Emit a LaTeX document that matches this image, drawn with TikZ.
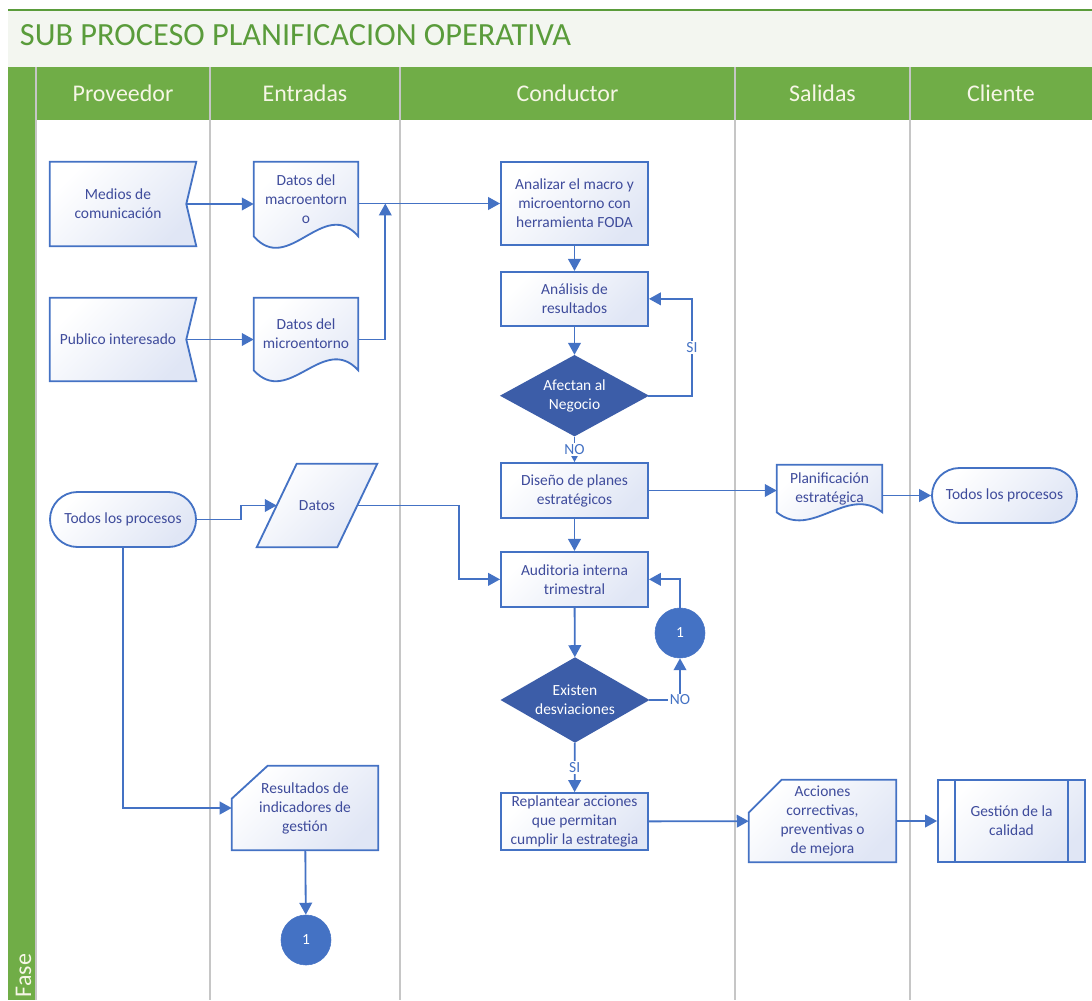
\documentclass[tikz,border=0pt]{standalone}
\usepackage{fontspec}
\setmainfont{Carlito}
\usepackage{xcolor}
\usetikzlibrary{arrows.meta,positioning,calc,shapes.geometric,shapes.misc}
\definecolor{lanegreen}{HTML}{70AD47}
\definecolor{titlegreen}{HTML}{5A9C3B}
\definecolor{titlefill}{HTML}{F3F6F0}
\definecolor{lanegray}{HTML}{C6C6C6}
\definecolor{headtext}{HTML}{F6F6E6}
\definecolor{shapeblue}{HTML}{4472C4}
\definecolor{decblue}{HTML}{3C5DA8}
\definecolor{shapetext}{HTML}{3F4C9C}
\definecolor{shapefill}{HTML}{E0E6F5}
\pgfdeclarelayer{lanes}
\pgfdeclarelayer{outline}
\pgfsetlayers{lanes,outline,main}
\newcommand\flowfont{\fontsize{11}{13.5}\selectfont}
\newcommand\notchshape[1]{\path[shapebody] (#1.north west) -- ($(#1.north east)+(10,0)$) -- (#1.east) -- ($(#1.south east)+(10,0)$) -- (#1.south west) -- cycle;}
\newcommand\docshape[2]{\path[shapebody] (#1.north west) -- (#1.north east) -- (#1.south east) .. controls ($(#1.south east)!0.333!(#1.south west)+(0,-#2)$) and ($(#1.south east)!0.667!(#1.south west)+(0,#2)$) .. (#1.south west) -- cycle;}
\newcommand\slantshape[2]{\path[shapebody] (#1.south west) -- ($(#1.north west)+(#2,0)$) -- (#1.north east) -- ($(#1.south east)+(-#2,0)$) -- cycle;}
\newcommand\cardshape[3]{\path[shapebody] ($(#1.north west)+(0,#3)$) -- ($(#1.north west)+(#2,0)$) -- (#1.north east) -- (#1.south east) -- (#1.south west) -- cycle;}

\begin{document}
\begin{tikzpicture}[
  x=0.025cm, y=-0.025cm,
  >={Triangle[length=8.5pt,width=9pt]},
  shapebody/.style={draw=shapeblue, line width=1.3pt, top color=white, bottom color=shapefill, shading angle=45},
  plain/.style={rectangle, align=center, text=shapetext, font=\flowfont, inner sep=0pt},
  proc/.style={plain, shapebody, minimum width=3.675cm},
  term/.style={plain, rounded rectangle, shapebody},
  decision/.style={diamond, aspect=1.8, fill=decblue, draw=decblue, line width=1.3pt, text=white, font=\flowfont, align=center, inner sep=0pt, minimum width=3.65cm},
  connector/.style={circle, fill=shapeblue, draw=shapeblue, text=white, font=\flowfont, minimum size=1.25cm, inner sep=0pt},
  flow/.style={->, draw=shapeblue, line width=1.3pt},
  answer/.style={fill=white, text=shapeblue, font=\flowfont, inner sep=1pt},
  lanehead/.style={anchor=base, text=headtext, font=\fontsize{17}{20}\selectfont}
]
  \useasboundingbox (0,0) rectangle (1092,1000);

  \begin{pgfonlayer}{lanes}
    \fill[titlefill] (8,10) rectangle (1092,67);
    \draw[titlegreen, line width=1.5pt] (8,10) -- (1092,10);
    \fill[lanegreen] (8,67) rectangle (1092,120);
    \fill[lanegreen] (8,120) rectangle (36,1000);
    \foreach \x in {36,210,400,735,910}
      \draw[lanegray, line width=1.4pt] (\x,67) -- (\x,1000);
  \end{pgfonlayer}

  \node[anchor=base west, text=titlegreen, font=\fontsize{23}{26}\selectfont] (title) at (15,45) {SUB PROCESO PLANIFICACION OPERATIVA};
  \node[lanehead] (hprov) at (123,101) {Proveedor};
  \node[lanehead] (hent) at (305,101) {Entradas};
  \node[lanehead] (hcond) at (567.5,101) {Conductor};
  \node[lanehead] (hsal) at (822.5,101) {Salidas};
  \node[lanehead] (hcli) at (1001,101) {Cliente};
  \node[lanehead, anchor=base west, rotate=90] (fase) at (31,1002) {Fase};

  % proveedor
  \node[plain, minimum width=3.4cm, minimum height=2.1cm] (medios) at (118,204) {Medios de\\comunicación};
  \node[plain, minimum width=3.4cm, minimum height=2.075cm] (publico) at (118,339.5) {Publico interesado};
  \node[term, minimum width=3.65cm, minimum height=1.375cm] (todosA) at (123,519.5) {Todos los procesos};

  % entradas
  \node[plain, minimum width=2.6cm, minimum height=1.85cm] (macro) at (306,199) {Datos del\\macroentorn\\o};
  \node[plain, minimum width=2.6cm, minimum height=1.8cm] (micro) at (306,334) {Datos del\\microentorno};
  \node[plain, minimum width=3cm, minimum height=2.075cm] (datos) at (317,505.5) {Datos};
  \node[plain, minimum width=3.65cm, minimum height=2.1cm] (result) at (305,808) {Resultados de\\indicadores de\\gestión};
  \node[connector] (conA) at (306,940) {1};

  % conductor
  \node[proc, minimum height=2.075cm] (analizar) at (574.5,203.5) {Analizar el macro y\\microentorno con\\herramienta FODA};
  \node[proc, minimum height=1.35cm, below=0.625cm of analizar] (analisis) {Análisis de\\resultados};
  \node[decision, minimum height=2cm, below=0.7cm of analisis] (afectan) {Afectan al\\Negocio};
  \node[proc, minimum height=1.375cm] (diseno) at (574.5,490.5) {Diseño de planes\\estratégicos};
  \node[proc, minimum height=1.375cm, below=0.8cm of diseno] (audit) {Auditoria interna\\trimestral};
  \node[decision, minimum height=2.1cm] (existen) at (575,700) {Existen\\desviaciones};
  \node[connector] (conB) at (680,633) {1};
  \node[proc, minimum height=1.425cm] (replan) at (574.5,821.5) {Replantear acciones\\que permitan\\cumplir la estrategia};

  % salidas y cliente
  \node[plain, minimum width=2.625cm, minimum height=1.175cm] (planif) at (829.5,488.5) {Planificación\\estratégica};
  \node[plain, minimum width=3.675cm, minimum height=2.05cm] (acciones) at (822.5,821) {Acciones\\correctivas,\\preventivas o\\de mejora};
  \node[term, minimum width=3.625cm, minimum height=1.375cm] (todosC) at (1004.5,495.5) {Todos los procesos};
  \node[proc, minimum height=2.05cm] (gestion) at (1011.5,821) {Gestión de la\\calidad};
  \draw[shapeblue, line width=1.3pt] ($(gestion.north west)+(18,0)$) -- ($(gestion.south west)+(18,0)$)
    ($(gestion.north east)+(-18,0)$) -- ($(gestion.south east)+(-18,0)$);

  \begin{pgfonlayer}{outline}
    \notchshape{medios}
    \notchshape{publico}
    \docshape{macro}{40}
    \docshape{micro}{38}
    \docshape{planif}{28}
    \slantshape{datos}{40}
    \cardshape{result}{36}{33}
    \cardshape{acciones}{33}{33}
  \end{pgfonlayer}

  \draw[flow] (medios.east) -- (medios.east -| macro.west);
  \draw[flow] (publico.east) -- (publico.east -| micro.west);
  \draw[flow] (macro.east |- analizar.west) -- (analizar.west);
  \draw[flow] (publico.east -| micro.east) -| ($(macro.east |- analizar.west)+(27,0)$);
  \draw[flow] (analizar) -- (analisis);
  \draw[flow] (analisis) -- (afectan);
  \draw[flow] (afectan.east) -| node[pos=0.75, answer] {SI} ($(analisis.east)+(43,0)$) -- (analisis.east);
  \draw[flow] (afectan) -- node[answer] {NO} (diseno);
  \draw[flow] (diseno.east) -- (diseno.east -| planif.west);
  \draw[flow] (todosC.west -| planif.east) -- (todosC.west);
  \draw[flow] (diseno) -- (audit);
  \draw[flow] (todosA.east) -- ++(44,0) |- ($(datos.west)+(20,0)$);
  \draw[flow] ($(datos.east)+(-20,0)$) -- ++(102,0) |- (audit.west);
  \draw[flow] (todosA.south) |- (result.west);
  \draw[flow] (result) -- (conA);
  \draw[flow] (audit) -- (existen);
  \draw[flow] (existen.east) -| node[pos=0.5, answer] {NO} (conB.south);
  \draw[flow] (conB.north) |- (audit.east);
  \draw[flow] (existen) -- node[answer] {SI} (replan);
  \draw[flow] (replan) -- (acciones);
  \draw[flow] (acciones) -- (gestion);
\end{tikzpicture}
\end{document}
